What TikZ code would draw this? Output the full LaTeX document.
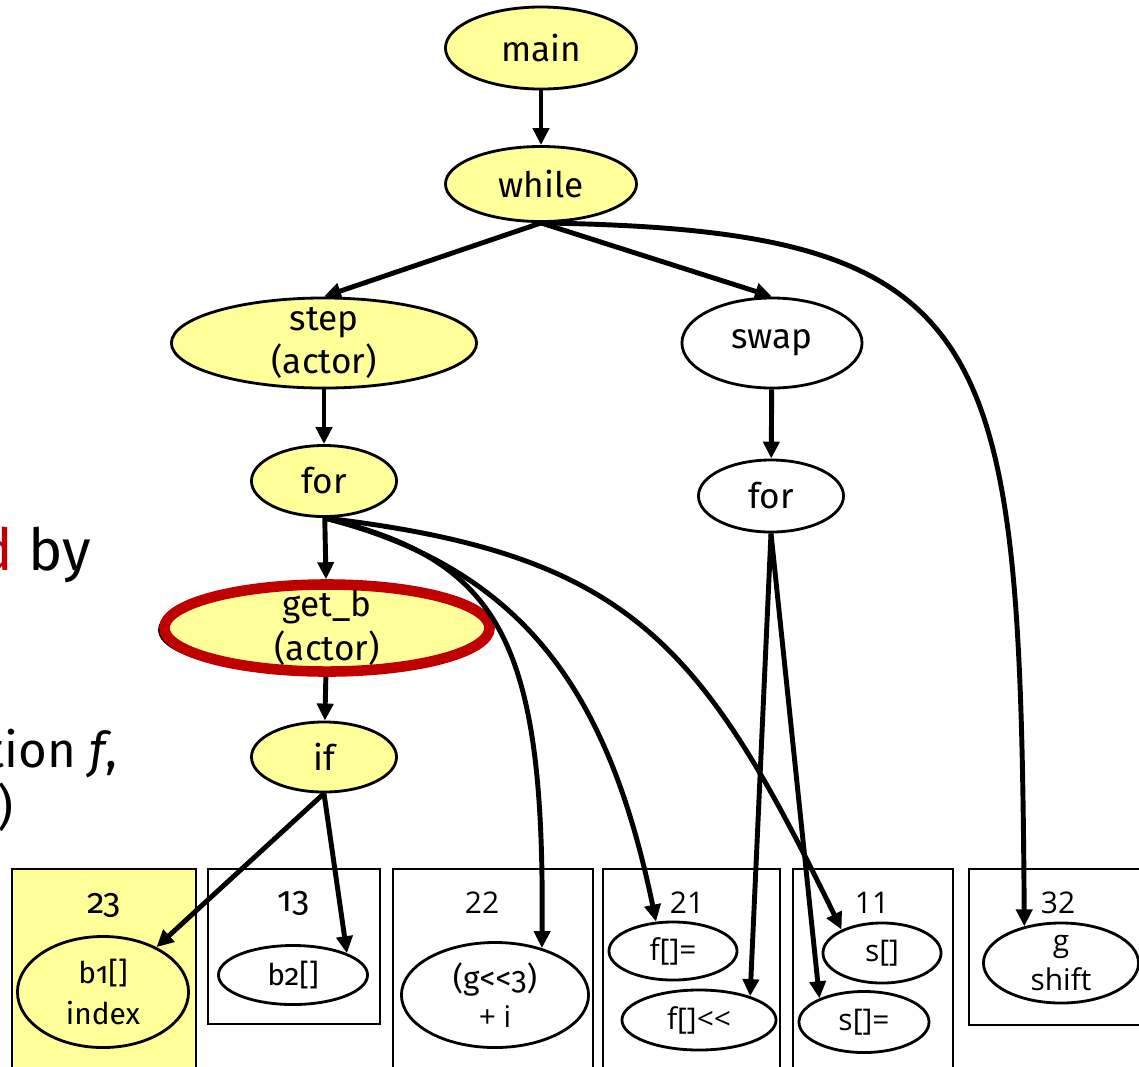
\documentclass[tikz,border=0pt]{standalone}
\usepackage{fontspec}
\setmainfont{Open Sans}
\newfontfamily\candara[Numbers=OldStyle]{Fira Sans}
\usetikzlibrary{shapes.geometric,arrows.meta}

\definecolor{nodeyellow}{HTML}{FFFF99}
\definecolor{darkred}{HTML}{C00000}

\tikzset{
  ell/.style={ellipse, draw, fill=white, line width=0.8pt, inner xsep=0pt, inner ysep=-6pt, align=center},
  act/.style={ell, fill=nodeyellow},
  callfont/.style={font=\candara\fontsize{10}{12.5}\selectfont},
  smallcall/.style={font=\candara\fontsize{8.5}{11.5}\selectfont},
  varfont/.style={font=\fontsize{8.5}{11}\selectfont},
  flow/.style={-{Triangle[length=0.17cm,width=0.16cm]}, line width=1.4pt},
  cellbox/.style={draw, line width=0.6pt}
}

\begin{document}
\begin{tikzpicture}[x=0.01cm,y=-0.01cm]

        \useasboundingbox (0,0) rectangle (1139,1066);
        \clip (0,0) rectangle (1139,1066);

        % Slide text cut off at the left edge
        \node[anchor=base east, inner sep=0pt, font=\candara\fontsize{16.5}{20}\selectfont] (txtby) at (92,570) {\textcolor{darkred}{d} by};
        \node[anchor=base east, inner sep=0pt, font=\candara\fontsize{14}{17}\selectfont] (txtf) at (118,767) {tion \textit{f},};
        \node[anchor=base east, inner sep=0pt, font=\candara\fontsize{14}{17}\selectfont] (txtpar) at (14,824) {)};

        % Draw the boxes
        \draw[cellbox, fill=nodeyellow] (12,869) rectangle (196,1080);
        \foreach \xa/\xb/\yb in {208/380/1024, 393/593/1080, 603/780/1080, 793/953/1080, 969/1150/1025}
            \draw[cellbox] (\xa,869) rectangle (\xb,\yb);

        % Box numbers
        \node[callfont] (n23) at (104,905) {23};
        \node[callfont] (n13) at (294,903) {13};
        \foreach \nm/\x in {22/482, 21/687, 11/872, 32/1058}
            \node[font=\fontsize{8.5}{10}\selectfont] (n\nm) at (\x,903) {\nm};

        % Draw the call tree
        \node[act, callfont, minimum width=1.91cm, minimum height=0.82cm] (main) at (541,48) {main};
        \node[act, callfont, minimum width=1.91cm, minimum height=0.75cm] (while) at (541,184) {while};
        \node[act, callfont, minimum width=3.05cm, minimum height=0.90cm] (step) at (324,343) {step\\(actor)};
        \node[ell, callfont, minimum width=1.80cm, minimum height=0.90cm] (swap) at (772,343) {swap};
        \node[act, callfont, minimum width=1.45cm, minimum height=0.71cm] (forl) at (324,481) {for};
        \node[ell, callfont, minimum width=1.45cm, minimum height=0.72cm] (forr) at (771,496) {for};
        \node[ell, minimum width=3.25cm, minimum height=0.87cm] (getbline) at (322,630) {};
        \node[act, callfont, draw=darkred, line width=3pt, minimum width=3.25cm, minimum height=0.87cm] (getb) at (327,628) {get\_b\\(actor)};
        \node[act, callfont, minimum width=1.45cm, minimum height=0.70cm] (if) at (324,757) {if};

        % Data in the boxes
        \node[act, smallcall, minimum width=1.71cm, minimum height=1.11cm] (b1) at (103,992) {b1[]\\index};
        \node[ell, smallcall, minimum width=1.49cm, minimum height=0.59cm] (b2) at (293,975) {b2[]};
        \node[ell, varfont, minimum width=1.87cm, minimum height=1.05cm] (gi) at (495,995) {{\candara\fontsize{9}{11}\selectfont (g<{}<3)}\\+ i};
        \node[ell, varfont, minimum width=1.28cm, minimum height=0.58cm] (fset) at (673,951) {f[]=};
        \node[ell, varfont, minimum width=1.54cm, minimum height=0.60cm] (fshl) at (699,1020) {f[]<{}<};
        \node[ell, varfont, minimum width=1.18cm, minimum height=0.60cm] (sget) at (882,953) {s[]};
        \node[ell, varfont, minimum width=1.30cm, minimum height=0.61cm] (sset) at (864,1022) {s[]=};
        \node[ell, varfont, minimum width=1.55cm, minimum height=0.80cm] (gsh) at (1061,963) {g\\shift};

        % Calls
        \draw[flow] (main) -- (while);
        \draw[flow] (while.south) -- (step.north);
        \draw[flow] (while.south) -- (swap.north);
        \draw[flow] (while.south) .. controls (1000,230) and (1020,330) .. (gsh.135);
        \draw[flow] (step) -- (forl);
        \draw[flow] (forl) -- (getb);
        \draw[flow] (getb) -- (if);
        \draw[flow] (swap) -- (forr);

        % Accesses
        \draw[flow] (if.south) -- (b1.40);
        \draw[flow] (if.south) -- (b2.22);
        \draw[flow] (forl.south) .. controls (500,560) and (545,640) .. (gi.45);
        \draw[flow] (forl.south) .. controls (530,570) and (610,700) .. (fset.120);
        \draw[flow] (forl.south) .. controls (630,554) and (701,642) .. (sget.150);
        \draw[flow] (forr.south) -- (fshl.25);
        \draw[flow] (forr.south) -- (sset.152);

\end{tikzpicture}
\end{document}
